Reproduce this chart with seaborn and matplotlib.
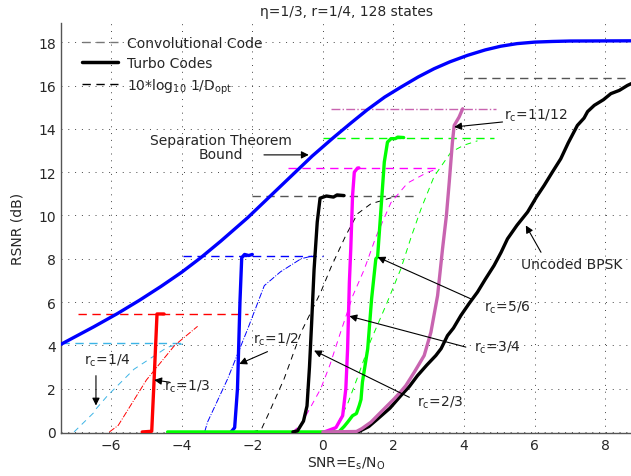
import matplotlib
matplotlib.use('Agg')
import seaborn as sns
import matplotlib.pyplot as plt
from matplotlib.lines import Line2D

# separation theorem bound
bound_snr = [-7.42, -6.5, -5.82, -5.2, -4.59, -4.0, -3.46, -2.89, -2.13, -1.2, -0.3, 0.3, 0.8,
             1.27, 1.75, 2.21, 2.7, 3.15, 3.6, 4.1, 4.6, 5.04, 5.5, 6.0, 6.5, 7.0, 8.8]
bound_rsnr = [4.05, 4.85, 5.47, 6.08, 6.72, 7.38, 8.05, 8.82, 9.9, 11.35, 12.75, 13.6, 14.28,
              14.9, 15.47, 15.93, 16.4, 16.78, 17.1, 17.4, 17.65, 17.82, 17.94, 18.01, 18.04,
              18.06, 18.07]

# uncoded BPSK
bpsk_snr = [1.0, 1.3, 1.55, 1.9, 2.21, 2.45, 2.68, 2.95, 3.2, 3.35, 3.53, 3.7, 3.91, 4.15, 4.38,
            4.6, 4.85, 5.05, 5.23, 5.5, 5.8, 6.05, 6.27, 6.5, 6.74, 6.95, 7.21, 7.4, 7.5, 7.69,
            7.95, 8.16, 8.4, 8.63, 8.75]
bpsk_rsnr = [0.0, 0.25, 0.6, 1.1, 1.68, 2.1, 2.6, 3.1, 3.53, 3.85, 4.45, 4.8, 5.38, 5.95, 6.46,
             7.05, 7.69, 8.3, 8.92, 9.55, 10.16, 10.85, 11.39, 12.0, 12.62, 13.35, 14.16, 14.5,
             14.8, 15.09, 15.35, 15.63, 15.78, 16.01, 16.1]

# turbo codes (thick)
turbo_13_snr = [-5.12, -4.85, -4.78, -4.7, -4.5]
turbo_13_rsnr = [0.0, 0.03, 2.5, 5.45, 5.45]
turbo_12_snr = [-2.6, -2.5, -2.42, -2.35, -2.3, -2.22, -2.1, -2.0]
turbo_12_rsnr = [0.0, 0.2, 2.0, 6.0, 8.05, 8.2, 8.15, 8.2]
turbo_23_snr = [-0.85, -0.72, -0.55, -0.45, -0.38, -0.32, -0.25, -0.16, -0.08, 0.1, 0.3, 0.4, 0.6]
turbo_23_rsnr = [0.0, 0.05, 0.5, 1.2, 3.0, 5.0, 7.5, 9.7, 10.8, 10.9, 10.85, 10.95, 10.92]
turbo_34_snr = [0.04, 0.37, 0.56, 0.65, 0.7, 0.75, 0.79, 0.84, 0.89, 0.98, 1.02]
turbo_34_rsnr = [0.0, 0.2, 0.75, 2.0, 3.84, 6.9, 8.46, 10.9, 12.0, 12.19, 12.2]
turbo_56_snr = [-4.4, 0.45, 0.6, 0.7, 0.84, 0.95, 1.03, 1.08, 1.12, 1.27, 1.38, 1.5, 1.55, 1.64,
                1.74, 1.83, 1.93, 2.05, 2.12, 2.29]
turbo_56_rsnr = [0.0, 0.0, 0.25, 0.45, 0.75, 0.85, 1.22, 1.5, 2.3, 3.84, 6.15, 8.0, 8.08, 10.16,
                 12.47, 13.39, 13.55, 13.55, 13.62, 13.6]
turbo_1112_snr = [0.0, 0.95, 1.1, 1.36, 1.64, 2.02, 2.2, 2.35, 2.59, 2.87, 3.06, 3.25, 3.39, 3.5,
                  3.58, 3.67, 3.72, 3.86, 3.96]
turbo_1112_rsnr = [0.0, 0.02, 0.15, 0.45, 0.91, 1.53, 1.85, 2.14, 2.76, 3.53, 4.6, 6.3, 8.46, 10.0,
                   11.54, 13.39, 14.16, 14.55, 14.93]

# convolutional codes (thin)
conv_14_snr = [-7.05, -6.48, -6.43, -6.1, -5.35, -4.4, -3.97]
conv_14_rsnr = [0.0, 0.91, 1.06, 1.68, 2.9, 3.92, 4.07]
conv_13_snr = [-6.05, -5.8, -5.0, -4.2, -3.55]
conv_13_rsnr = [0.0, 0.3, 2.4, 4.0, 4.88]
conv_12_snr = [-3.35, -3.27, -2.7, -2.13, -1.66, -1.2, -0.62, -0.25]
conv_12_rsnr = [0.0, 0.45, 2.45, 4.76, 6.76, 7.4, 8.0, 8.15]
conv_23_snr = [-2.0, -1.75, -1.55, -1.1, -0.62, -0.06, 0.23, 0.65, 0.98, 1.36, 2.0]
conv_23_rsnr = [0.0, 0.1, 0.8, 2.45, 4.6, 6.46, 7.61, 9.08, 10.08, 10.54, 10.85]
conv_34_snr = [-0.85, -0.6, -0.06, 0.2, 0.5, 0.85, 1.17, 1.5, 1.93, 2.4, 2.97, 3.15]
conv_34_rsnr = [0.0, 0.4, 2.0, 3.1, 4.6, 6.3, 7.5, 9.0, 10.6, 11.5, 12.0, 12.1]
conv_56_snr = [0.3, 0.7, 1.0, 1.35, 1.8, 2.21, 2.5, 2.78, 3.15, 3.63, 4.0, 4.38]
conv_56_rsnr = [0.0, 1.3, 2.6, 4.2, 5.9, 7.54, 9.0, 10.3, 11.8, 12.93, 13.25, 13.45]

# 10*log10 1/Dopt levels: (level, start, end)
dopt_level = [4.1, 5.45, 8.15, 10.9, 12.2, 13.6, 14.93, 16.35]
dopt_start = [-7.42, -6.94, -3.97, -2.0, -1.0, 0.0, 0.23, 4.0]
dopt_end = [-3.9, -2.12, 0.0, 2.68, 3.3, 4.85, 4.9, 8.8]

c_cyan = '#3cb4e6'
c_red = '#ff0000'
c_blue = '#0000ff'
c_black = '#000000'
c_mag = '#ff00ff'
c_green = '#00ff00'
c_orchid = '#c864b0'
c_gray = '#555555'

sns.set_style('white')
plt.rcParams['font.family'] = ['DejaVu Sans']
plt.rcParams['mathtext.default'] = 'regular'
plt.rcParams['font.size'] = 10

fig = plt.figure(figsize=(6.31, 4.77), dpi=100)
ax = fig.add_axes([0.0967, 0.0901, 0.9033, 0.859])


def draw(xs, ys, color, lw, ls='-', z=2):
    sns.lineplot(x=xs, y=ys, color=color, lw=lw, linestyle=ls, sort=False, estimator=None,
                 ax=ax, zorder=z, legend=False, solid_joinstyle='round')


dopt_colors = [c_cyan, c_red, c_blue, c_gray, c_mag, c_green, c_orchid, c_gray]
dopt_styles = [(0, (6, 4))] * 6 + ['-.', (0, (6, 4))]
for lev, x0, x1, col, st in zip(dopt_level, dopt_start, dopt_end, dopt_colors, dopt_styles):
    draw([x0, x1], [lev, lev], col, 1.0, st, 2)

thin = (0, (6, 5))
draw(conv_14_snr, conv_14_rsnr, c_cyan, 0.7, thin, 3)
draw(conv_13_snr, conv_13_rsnr, c_red, 0.7, '-.', 3)
draw(conv_12_snr, conv_12_rsnr, c_blue, 0.7, '-.', 3)
draw(conv_23_snr, conv_23_rsnr, c_black, 0.7, thin, 3)
draw(conv_34_snr, conv_34_rsnr, c_mag, 0.7, thin, 3)
draw(conv_56_snr, conv_56_rsnr, c_green, 0.7, thin, 3)

draw(bound_snr, bound_rsnr, c_blue, 2.4, '-', 4)
draw(bpsk_snr, bpsk_rsnr, c_black, 2.4, '-', 4)
draw(turbo_13_snr, turbo_13_rsnr, c_red, 2.4, '-', 5)
draw(turbo_12_snr, turbo_12_rsnr, c_blue, 2.4, '-', 5)
draw(turbo_56_snr, turbo_56_rsnr, c_green, 2.4, '-', 5)
draw(turbo_23_snr, turbo_23_rsnr, c_black, 2.4, '-', 6)
draw(turbo_34_snr, turbo_34_rsnr, c_mag, 2.4, '-', 6)
draw(turbo_1112_snr, turbo_1112_rsnr, c_orchid, 2.4, '-', 7)

ax.set_xlim(-7.42, 8.73)
ax.set_ylim(-0.05, 18.88)
ax.set_xticks(range(-6, 9, 2))
ax.set_yticks(range(0, 19, 2))
ax.grid(True, color='#444444', linestyle=(0, (1, 6)), linewidth=0.7)
ax.tick_params(direction='in', length=3, color='#555555', labelsize=10)
for s in ['top', 'right']:
    ax.spines[s].set_visible(False)
for s in ['left', 'bottom']:
    ax.spines[s].set_color('#555555')
    ax.spines[s].set_linewidth(1.0)

ax.set_title('\u03b7=1/3, r=1/4, 128 states', fontsize=10, pad=6)
ax.set_xlabel('SNR=E$_s$/N$_O$', fontsize=10, labelpad=2)
ax.set_ylabel('RSNR (dB)', fontsize=10, labelpad=10)

# annotations
arrow = dict(arrowstyle='-|>', color='k', lw=0.8, mutation_scale=11, shrinkA=0, shrinkB=0)
notes = [
    ('r$_c$=1/4', -6.76, 3.35, (-6.43, 2.6), (-6.43, 1.22)),
    ('r$_c$=1/3', -4.5, 2.12, (-4.35, 2.3), (-4.78, 2.4)),
    ('r$_c$=1/2', -1.99, 4.3, (-1.57, 3.71), (-2.37, 3.14)),
    ('r$_c$=2/3', 2.68, 1.38, (2.45, 1.6), (-0.25, 3.76)),
    ('r$_c$=3/4', 4.28, 3.92, (4.05, 3.92), (0.75, 5.35)),
    ('r$_c$=5/6', 4.56, 5.77, (4.19, 6.15), (1.55, 8.08)),
    ('r$_c$=11/12', 5.14, 14.65, (5.09, 14.32), (3.72, 14.09)),
    ('Uncoded BPSK', 5.6, 7.77, (6.18, 8.3), (5.75, 9.54)),
]
for txt, tx, ty, tail, head in notes:
    ax.text(tx, ty, txt, ha='left', va='center', fontsize=10, zorder=9)
    ax.annotate('', xy=head, xytext=tail, arrowprops=arrow, zorder=9)

ax.text(-2.89, 13.15, 'Separation Theorem\nBound', ha='center', va='center', fontsize=10,
        linespacing=1.0, zorder=9)
ax.annotate('', xy=(-0.4, 12.8), xytext=(-1.67, 12.8), arrowprops=arrow, zorder=9)

handles = [
    Line2D([], [], color='#777777', lw=1.0, linestyle=(0, (6, 4))),
    Line2D([], [], color='k', lw=2.5),
    Line2D([], [], color='k', lw=1.0, linestyle=(0, (6, 4))),
]
labels = ['Convolutional Code', 'Turbo Codes', '10*log$_{10}$ 1/D$_{opt}$']
ax.legend(handles, labels, loc='upper left', bbox_to_anchor=(0.015, 1.0), frameon=False,
          handlelength=2.6, handletextpad=0.6, labelspacing=0.45, fontsize=10)

fig.savefig('out.png', dpi=100)
